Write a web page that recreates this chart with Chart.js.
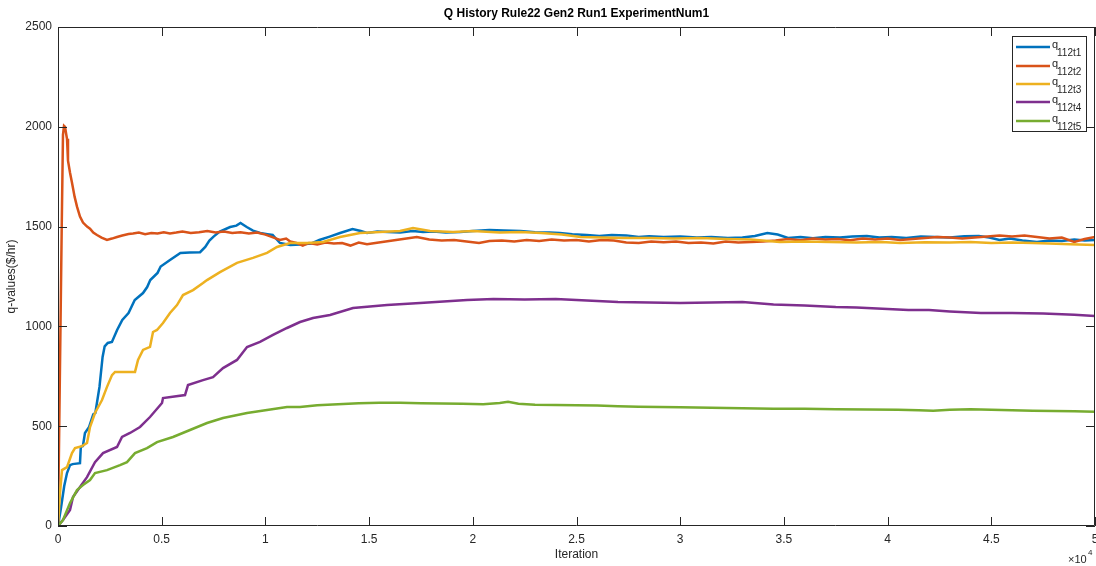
<!DOCTYPE html>
<html>
<head>
<meta charset="utf-8">
<script src="https://cdn.jsdelivr.net/npm/chart.js@4.4.1/dist/chart.umd.min.js"></script>
<style>
  html, body { margin: 0; padding: 0; background: #fff; }
</style>
</head>
<body>
<canvas id="qChart" width="1096" height="566"></canvas>
<script>
// series names shown in the legend (q + subscript)
var seriesSubs = ["112t1", "112t2", "112t3", "112t4", "112t5"];
var seriesColors = ["#0072BD", "#D95319", "#EDB120", "#7E2F8E", "#77AC30"];

// x tick positions (iterations) and y ticks
var xTicks = [0, 5000, 10000, 15000, 20000, 25000, 30000, 35000, 40000, 45000, 50000];
var yTicks = [0, 500, 1000, 1500, 2000, 2500];

// q112t1
var it1 = [
  0, 150, 300, 434, 580, 700, 1060, 1100, 1200, 1300,
  1500, 1700, 1800, 2000, 2150, 2250, 2400, 2600, 2850, 3100,
  3400, 3700, 4100, 4300, 4450, 4800, 4950, 5400, 5900, 6350,
  6850, 7100, 7300, 7500, 7800, 8300, 8600, 8800, 9100, 9400,
  9750, 10100, 10350, 10700, 11200, 11700, 12200, 12600, 13100, 13600,
  14200, 14600, 14900, 15400, 15900, 16500, 17100, 17600, 18100, 18700,
  19400, 20000, 20800, 21500, 22300, 23000, 23700, 24200, 24800, 25500,
  26100, 26700, 27400, 28000, 28500, 29200, 30000, 30800, 31500, 32300,
  33000, 33600, 34200, 34700, 35200, 35800, 36400, 37000, 37700, 38300,
  39000, 39600, 40200, 40900, 41600, 42300, 43000, 43700, 44400, 44900,
  45400, 45900, 46500, 47200, 47800, 48400, 49000, 49500, 50000
];
var q1 = [
  0, 95, 200, 265, 305, 310, 315, 396, 400, 466,
  496, 560, 566, 697, 847, 900, 917, 922, 982, 1032,
  1067, 1132, 1167, 1197, 1232, 1268, 1300, 1333, 1368, 1370,
  1372, 1398, 1430, 1450, 1475, 1498, 1505, 1518, 1498, 1480,
  1468, 1462, 1458, 1418, 1408, 1410, 1415, 1433, 1450, 1468,
  1488, 1478, 1468, 1475, 1473, 1470, 1478, 1473, 1476, 1470,
  1473, 1478, 1483, 1480, 1478, 1472, 1470, 1468, 1462, 1458,
  1453, 1458, 1456, 1448, 1452, 1448, 1450, 1445, 1448, 1443,
  1445, 1453, 1468, 1460, 1443, 1448, 1442, 1448, 1445, 1450,
  1453, 1445, 1448, 1443, 1450, 1448, 1445, 1452, 1453, 1445,
  1433, 1440, 1430, 1423, 1430, 1428, 1435, 1430, 1433
];

// q112t2
var it2 = [
  0, 60, 120, 180, 240, 290, 340, 400, 434, 482,
  580, 675, 800, 916, 1060, 1205, 1400, 1543, 1700, 1881,
  2100, 2362, 2600, 2845, 3100, 3400, 3616, 3900, 4200, 4500,
  4800, 5100, 5400, 5700, 6000, 6400, 6800, 7200, 7600, 8000,
  8400, 8800, 9200, 9600, 10000, 10400, 10700, 11000, 11200, 11500,
  11800, 12100, 12500, 12900, 13300, 13700, 14100, 14500, 14900, 15300,
  15800, 16300, 16800, 17300, 17900, 18500, 19100, 19700, 20300, 20800,
  21400, 22000, 22600, 23200, 23800, 24400, 25000, 25600, 26200, 26800,
  27400, 28000, 28600, 29200, 29800, 30400, 31000, 31600, 32200, 32800,
  33400, 34000, 34600, 35200, 35800, 36400, 37000, 37600, 38200, 38800,
  39400, 40000, 40600, 41200, 41800, 42400, 43000, 43600, 44200, 44800,
  45400, 46000, 46600, 47200, 47800, 48400, 49000, 49500, 50000
];
var q2 = [
  0, 500, 1000, 1500, 1960, 2005, 2000, 1960, 1940, 1830,
  1770, 1720, 1650, 1600, 1550, 1520, 1500, 1490, 1470, 1458,
  1445, 1433, 1440, 1448, 1455, 1463, 1465, 1470, 1462, 1468,
  1465, 1472, 1466, 1470, 1475, 1468, 1472, 1478, 1470, 1475,
  1468, 1472, 1465, 1470, 1460, 1445, 1433, 1440, 1425, 1418,
  1405, 1418, 1410, 1420, 1415, 1418, 1405, 1420, 1412, 1418,
  1425, 1433, 1440, 1448, 1435, 1430, 1433, 1425, 1418, 1428,
  1430, 1425, 1433, 1428, 1435, 1430, 1433, 1425, 1433, 1430,
  1420, 1418, 1425, 1422, 1425, 1418, 1420, 1415, 1425, 1420,
  1423, 1425, 1430, 1438, 1432, 1440, 1435, 1438, 1432, 1440,
  1436, 1440, 1433, 1438, 1443, 1448, 1445, 1440, 1445, 1450,
  1455, 1450, 1455, 1448, 1440, 1445, 1423, 1438, 1448
];

// q112t3
var it3 = [
  0, 96, 193, 434, 675, 820, 1157, 1398, 1543, 1784,
  2122, 2363, 2604, 2749, 3400, 3713, 3858, 4099, 4436, 4581,
  4774, 5063, 5400, 5738, 6027, 6510, 6992, 7185, 7811, 8631,
  9403, 10078, 10560, 11187, 12007, 12778, 13598, 14562, 15527, 16491,
  17118, 17938, 19047, 20011, 21300, 22300, 23300, 24300, 25200, 26200,
  27200, 28500, 29700, 31000, 32200, 33400, 34800, 36000, 37200, 38500,
  39700, 40600, 41800, 43000, 44000, 45000, 46000, 47000, 47800, 48800,
  50000
];
var q3 = [
  0, 165, 280, 295, 365, 390, 400, 416, 496, 566,
  631, 697, 756, 772, 772, 772, 832, 882, 897, 972,
  982, 1017, 1067, 1107, 1157, 1182, 1217, 1232, 1272, 1318,
  1343, 1368, 1398, 1418, 1418, 1423, 1448, 1468, 1473, 1478,
  1493, 1478, 1473, 1478, 1470, 1473, 1468, 1460, 1448, 1445,
  1443, 1443, 1440, 1443, 1438, 1435, 1423, 1425, 1423, 1420,
  1423, 1418, 1422, 1420, 1423, 1418, 1420, 1418, 1415, 1412,
  1408
];

// q112t4
var it4 = [
  0, 241, 579, 723, 1061, 1398, 1784, 2170, 2845, 3086,
  3472, 3954, 4436, 5015, 5063, 6124, 6268, 6992, 7474, 7956,
  8631, 9114, 9740, 10367, 11042, 11669, 12296, 13116, 14225, 15864,
  17456, 19722, 21000, 22500, 24000, 25500, 27000, 28500, 30000, 31500,
  33000, 34500, 36000, 37500, 38500, 40000, 41000, 42000, 43000, 44500,
  46000, 47500, 49000, 50000
];
var q4 = [
  0, 30, 80, 145, 195, 245, 320, 365, 396, 446,
  466, 496, 546, 616, 641, 656, 706, 731, 746, 791,
  832, 897, 922, 957, 992, 1022, 1042, 1057, 1092, 1107,
  1117, 1132, 1137, 1135, 1137, 1130, 1122, 1120, 1117, 1120,
  1122, 1110, 1105, 1097, 1095, 1087, 1082, 1082, 1075, 1067,
  1067, 1065, 1058, 1052
];

// q112t5
var it5 = [
  0, 241, 579, 916, 1205, 1543, 1784, 2363, 2990, 3327,
  3713, 4292, 4774, 5545, 6365, 7185, 7956, 9114, 10078, 11042,
  11669, 12500, 13500, 14500, 15500, 16500, 17500, 18500, 19500, 20500,
  21300, 21700, 22200, 23000, 24000, 25000, 26000, 27000, 28000, 29000,
  30000, 31500, 33000, 34500, 36000, 37500, 39000, 40500, 41500, 42200,
  43000, 44000, 45000, 46000, 47000, 48000, 49000, 50000
];
var q5 = [
  0, 30, 115, 180, 205, 230, 265, 280, 305, 320,
  365, 390, 420, 446, 481, 516, 541, 566, 581, 596,
  596, 605, 610, 615, 618, 617, 615, 614, 612, 610,
  616, 622, 612, 608, 606, 605, 604, 600, 598, 596,
  595, 592, 590, 588, 587, 585, 584, 582, 580, 578,
  582, 585, 583, 580, 578, 576, 575, 573
];

var TEXT = "#262626";
var FONT = "'Liberation Sans', Arial, Helvetica, sans-serif";

function toPoints(xs, ys) {
  return xs.map(function(x, i) { return { x: x, y: ys[i] }; });
}

var allIters = [it1, it2, it3, it4, it5];
var allQ = [q1, q2, q3, q4, q5];

var datasets = allQ.map(function(q, i) {
  return {
    label: "q" + seriesSubs[i],
    data: toPoints(allIters[i], q),
    borderColor: seriesColors[i],
    backgroundColor: seriesColors[i],
    borderWidth: 2.5,
    pointRadius: 0,
    tension: 0,
    fill: false,
    order: 4 - i
  };
});

// box, inward ticks, title, x10^4 and legend, matlab style
var matlabFrame = {
  id: "matlabFrame",
  afterDatasetsDraw: function(chart) {
    var ctx = chart.ctx, a = chart.chartArea;
    var xs = chart.scales.x, ys = chart.scales.y;
    ctx.save();
    ctx.strokeStyle = TEXT;
    ctx.lineWidth = 1;
    ctx.beginPath();
    ctx.rect(a.left + 0.5, a.top + 0.5, a.right - a.left - 1, a.bottom - a.top - 1);
    ctx.stroke();

    var tl = 9;
    ctx.beginPath();
    xs.ticks.forEach(function(t) {
      var px = Math.round(xs.getPixelForValue(t.value)) + 0.5;
      ctx.moveTo(px, a.bottom); ctx.lineTo(px, a.bottom - tl);
      ctx.moveTo(px, a.top); ctx.lineTo(px, a.top + tl);
    });
    ys.ticks.forEach(function(t) {
      var py = Math.round(ys.getPixelForValue(t.value)) + 0.5;
      ctx.moveTo(a.left, py); ctx.lineTo(a.left + tl, py);
      ctx.moveTo(a.right, py); ctx.lineTo(a.right - tl, py);
    });
    ctx.stroke();

    // title
    ctx.fillStyle = "#000";
    ctx.font = "bold 12px " + FONT;
    ctx.textAlign = "center";
    ctx.textBaseline = "middle";
    ctx.fillText("Q History Rule22 Gen2 Run1 ExperimentNum1", (a.left + a.right) / 2, 14);

    // exponent label
    ctx.fillStyle = TEXT;
    ctx.textAlign = "left";
    ctx.textBaseline = "alphabetic";
    ctx.font = "11px " + FONT;
    ctx.fillText("\u00d710", 1068, 563);
    ctx.font = "8px " + FONT;
    ctx.fillText("4", 1088, 555);

    // legend
    var lx = 1012.5, ly = 36.5, lw = 74, lh = 95;
    ctx.fillStyle = "#fff";
    ctx.fillRect(lx, ly, lw, lh);
    ctx.strokeStyle = TEXT;
    ctx.strokeRect(lx, ly, lw, lh);
    var rowY = [47, 66, 84, 102, 121];
    seriesSubs.forEach(function(sub, i) {
      var y = rowY[i];
      ctx.strokeStyle = seriesColors[i];
      ctx.lineWidth = 2.5;
      ctx.beginPath();
      ctx.moveTo(1016, y); ctx.lineTo(1050, y);
      ctx.stroke();
      ctx.fillStyle = TEXT;
      ctx.font = "11px " + FONT;
      ctx.fillText("q", 1052, y + 1);
      ctx.font = "10px " + FONT;
      ctx.fillText(sub, 1057, y + 8.5);
    });
    ctx.restore();
  }
};

var ctx = document.getElementById("qChart").getContext("2d");
new Chart(ctx, {
  type: "line",
  data: { datasets: datasets },
  options: {
    responsive: false,
    animation: false,
    events: [],
    layout: { padding: { top: 27, right: 1, left: 0, bottom: 0 } },
    plugins: {
      legend: { display: false },
      title: { display: false },
      tooltip: { enabled: false }
    },
    scales: {
      x: {
        type: "linear",
        min: 0,
        max: 50000,
        afterBuildTicks: function(scale) {
          scale.ticks = xTicks.map(function(v) { return { value: v }; });
        },
        afterFit: function(scale) {
          scale.height = 40;
          scale.paddingLeft = 0;
          scale.paddingRight = 0;
        },
        grid: { display: false, drawTicks: false },
        border: { display: false },
        ticks: {
          color: TEXT,
          font: { family: FONT, size: 12 },
          padding: 6,
          maxRotation: 0,
          autoSkip: false,
          callback: function(v) { return String(v / 10000); }
        },
        title: {
          display: true,
          text: "Iteration",
          color: TEXT,
          font: { family: FONT, size: 12 },
          padding: { top: 4, bottom: 4 }
        }
      },
      y: {
        min: 0,
        max: 2500,
        afterBuildTicks: function(scale) {
          scale.ticks = yTicks.map(function(v) { return { value: v }; });
        },
        afterFit: function(scale) {
          scale.width = 58;
          scale.paddingTop = 0;
          scale.paddingBottom = 0;
        },
        grid: { display: false, drawTicks: false },
        border: { display: false },
        ticks: {
          color: TEXT,
          font: { family: FONT, size: 12 },
          padding: 6,
          autoSkip: false,
          callback: function(v) { return String(v); }
        },
        title: {
          display: true,
          text: "q-values($/hr)",
          color: TEXT,
          font: { family: FONT, size: 12 },
          padding: { top: 4, bottom: 4 }
        }
      }
    }
  },
  plugins: [matlabFrame]
});
</script>
</body>
</html>
